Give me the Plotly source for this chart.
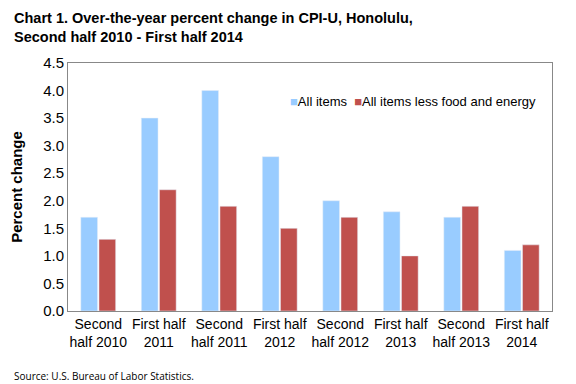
import plotly.graph_objects as go

categories = ["Second<br>half 2010", "First half<br>2011", "Second<br>half 2011", "First half<br>2012",
              "Second<br>half 2012", "First half<br>2013", "Second<br>half 2013", "First half<br>2014"]
all_items = [1.7, 3.5, 4.0, 2.8, 2.0, 1.8, 1.7, 1.1]
less_food_energy = [1.3, 2.2, 1.9, 1.5, 1.7, 1.0, 1.9, 1.2]
y_ticks = [0.0, 0.5, 1.0, 1.5, 2.0, 2.5, 3.0, 3.5, 4.0, 4.5]
series_names = ["All items", "All items less food and energy"]
series_colors = ["#99CCFF", "#C0504D"]

fig = go.Figure()
fig.add_trace(go.Bar(x=categories, y=all_items, name=series_names[0], marker_color=series_colors[0]))
fig.add_trace(go.Bar(x=categories, y=less_food_energy, name=series_names[1], marker_color=series_colors[1]))

font = "Liberation Sans, Arial, sans-serif"
fig.update_layout(
    width=568, height=376,
    margin=dict(l=60, r=24, t=55, b=73, autoexpand=False),
    paper_bgcolor="white", plot_bgcolor="white",
    barmode="group", bargap=0.4, bargroupgap=0.08,
    font=dict(family=font, size=14, color="black"),
    showlegend=False,
    xaxis=dict(showline=True, linecolor="#888888", mirror=True, ticks="", showgrid=False,
               tickangle=0, tickfont=dict(size=14)),
    yaxis=dict(range=[0, 4.5], tickvals=y_ticks, ticktext=[f"{v:.1f}" for v in y_ticks],
               showline=True, linecolor="#888888", mirror=True, showgrid=False, ticks="",
               tickfont=dict(size=15), zeroline=False,
               title=dict(text="<b>Percent change</b>", font=dict(size=15), standoff=19)),
)
legend_text = "  ".join(
    f'<span style="color:{c}">■</span>{n}' for n, c in zip(series_names, series_colors))
fig.add_annotation(text=legend_text, xref="paper", yref="paper", x=0.455, y=0.845,
                   xanchor="left", yanchor="middle", showarrow=False, font=dict(size=13))
fig.add_annotation(text="<b>Chart 1. Over-the-year percent change in CPI-U, Honolulu,<br>Second half 2010 - First half 2014</b>",
                   xref="paper", yref="paper", x=-0.116, y=1.222, xanchor="left", yanchor="top",
                   showarrow=False, align="left", font=dict(size=14.5, family=font))
fig.add_annotation(text="Source: U.S. Bureau of Labor Statistics.", xref="paper", yref="paper",
                   x=-0.116, y=-0.262, xanchor="left", yanchor="middle", showarrow=False,
                   font=dict(size=10, family="Open Sans, sans-serif"))
fig.write_html("out.html")
